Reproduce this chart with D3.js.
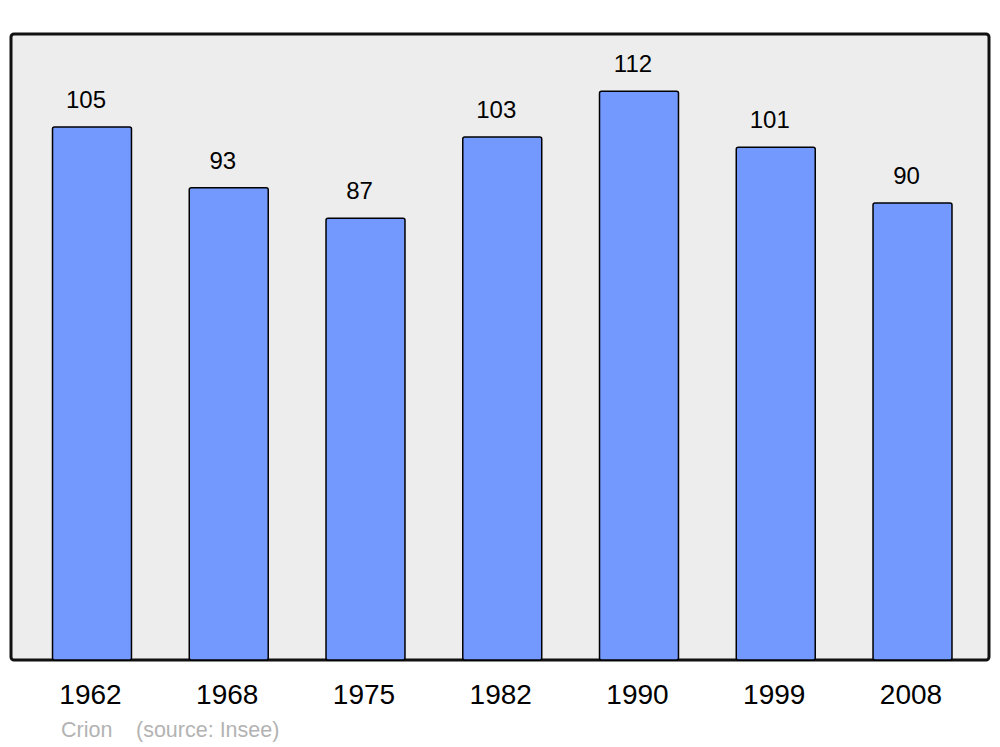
<!DOCTYPE html>
<html>
<head>
<meta charset="utf-8">
<script src="https://cdn.jsdelivr.net/npm/d3@7"></script>
<style>
  body { margin: 0; background: #fff; }
  text { font-family: "Liberation Sans", Arial, sans-serif; }
</style>
</head>
<body>
<svg id="chart" width="1000" height="747"></svg>
<script>
// population of Crion, census years
const years = ["1962", "1968", "1975", "1982", "1990", "1999", "2008"];
const population = [105, 93, 87, 103, 112, 101, 90];
const footerLabels = ["Crion", "(source: Insee)"];

const svg = d3.select("#chart");
const frame = { left: 11, right: 989, top: 34, bottom: 660 };

// background panel
svg.append("rect")
  .attr("x", frame.left)
  .attr("y", frame.top)
  .attr("width", frame.right - frame.left)
  .attr("height", frame.bottom - frame.top)
  .attr("rx", 3)
  .style("fill", "#ededed")
  .style("stroke", "#111")
  .style("stroke-width", 3);

let x = d3.scaleBand()
  .domain(years)
  .range([13.4, 991.1])
  .paddingInner(0.4225)
  .paddingOuter(0.286);

let y = d3.scaleLinear()
  .domain([0, 123.3])
  .range([frame.bottom, frame.top]);

let data = years.map((yr, i) => ({ year: yr, value: population[i] }));

svg.selectAll(".bar")
  .data(data)
  .enter().append("rect")
  .attr("class", "bar")
  .attr("x", d => x(d.year))
  .attr("y", d => y(d.value))
  .attr("width", x.bandwidth())
  .attr("height", d => y(0) - y(d.value))
  .attr("rx", 2)
  .style("fill", "#7399ff")
  .style("stroke", "#000")
  .style("stroke-width", 1.5);

svg.selectAll(".val")
  .data(data)
  .enter().append("text")
  .attr("class", "val")
  .attr("x", d => x(d.year) + x.bandwidth() / 2 - 6)
  .attr("y", d => y(d.value) - 19)
  .attr("text-anchor", "middle")
  .style("font-size", "24px")
  .style("fill", "#000")
  .text(d => d.value);

// x axis labels (no line/ticks)
let xAxis = svg.append("g")
  .attr("transform", `translate(0, ${frame.bottom})`)
  .call(d3.axisBottom(x).tickSize(0).tickPadding(0));
xAxis.select(".domain").remove();
xAxis.selectAll("text")
  .attr("dy", null)
  .attr("y", 44)
  .attr("x", -1.5)
  .style("font-size", "28px")
  .style("font-family", "'Liberation Sans', Arial, sans-serif")
  .style("fill", "#000");

svg.append("text")
  .attr("x", 61)
  .attr("y", 737)
  .style("font-size", "21.5px")
  .style("fill", "#b3b3b3")
  .text(footerLabels[0]);

svg.append("text")
  .attr("x", 136)
  .attr("y", 737)
  .style("font-size", "21.5px")
  .style("fill", "#b3b3b3")
  .text(footerLabels[1]);
</script>
</body>
</html>
